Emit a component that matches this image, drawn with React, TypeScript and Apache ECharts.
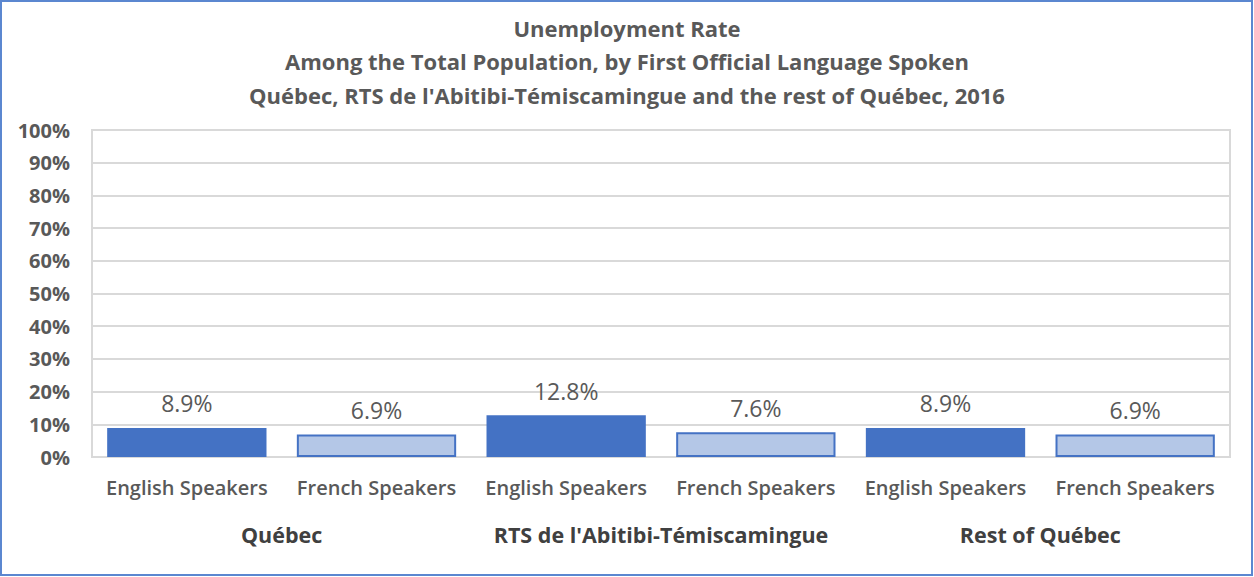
import React, { useEffect, useRef } from "react";
import * as echarts from "echarts";

const titleLines = [
  "Unemployment Rate",
  "Among the Total Population, by First Official Language Spoken",
  "Québec, RTS de l'Abitibi-Témiscamingue and the rest of Québec, 2016",
];
const categories = [
  "English Speakers",
  "French Speakers",
  "English Speakers",
  "French Speakers",
  "English Speakers",
  "French Speakers",
];
const groups = ["Québec", "RTS de l'Abitibi-Témiscamingue", "Rest of Québec"];
const values = [8.9, 6.9, 12.8, 7.6, 8.9, 6.9];

const FONT = "'Open Sans', Lato, sans-serif";

export default function App() {
  const ref = useRef<HTMLDivElement>(null);
  useEffect(() => {
    if (!ref.current) return;
    const chart = echarts.init(ref.current, null, { renderer: "svg" });
    chart.setOption({
      animation: false,
      backgroundColor: "#ffffff",
      textStyle: { fontFamily: FONT },
      title: {
        text: titleLines.join("\n"),
        left: "center",
        top: 6,
        textStyle: {
          fontFamily: FONT,
          fontSize: 22,
          fontWeight: "bold",
          color: "#595959",
          lineHeight: 33.5,
        },
      },
      graphic: [
        {
          type: "rect",
          shape: { x: 1, y: 1, width: 1251, height: 574 },
          style: { fill: "none", stroke: "#5B87D0", lineWidth: 2 },
          silent: true,
        },
      ],
      grid: {
        left: 92,
        right: 24,
        top: 130,
        bottom: 120,
        show: true,
        borderColor: "#D9D9D9",
        borderWidth: 2,
        backgroundColor: "transparent",
      },
      xAxis: [
        {
          type: "category",
          data: categories,
          axisLine: { lineStyle: { color: "#D9D9D9", width: 2 } },
          axisTick: { show: false },
          axisLabel: {
            margin: 20,
            fontFamily: FONT,
            fontSize: 20,
            fontWeight: 600,
            color: "#595959",
            interval: 0,
          },
        },
        {
          type: "category",
          data: groups,
          position: "bottom",
          axisLine: { show: false },
          axisTick: { show: false },
          axisLabel: {
            margin: 66,
            fontFamily: FONT,
            fontSize: 21.5,
            fontWeight: "bold",
            color: "#404040",
            interval: 0,
          },
        },
      ],
      yAxis: {
        type: "value",
        min: 0,
        max: 100,
        interval: 10,
        axisLine: { show: false },
        axisTick: { show: false },
        splitLine: { lineStyle: { color: "#D9D9D9", width: 2 } },
        axisLabel: {
          formatter: "{value}%",
          margin: 22,
          fontFamily: FONT,
          fontSize: 20,
          fontWeight: "bold",
          color: "#595959",
        },
      },
      series: [
        {
          type: "bar",
          xAxisIndex: 0,
          barCategoryGap: "16%",
          data: values.map((v, i) => ({
            value: v,
            itemStyle:
              i % 2 === 0
                ? { color: "#4472C4" }
                : { color: "#B4C7E7", borderColor: "#4472C4", borderWidth: 2 },
          })),
          label: {
            show: true,
            position: "top",
            distance: 13,
            formatter: (p: any) => `${Number(p.value).toFixed(1)}%`,
            fontFamily: FONT,
            fontSize: 23,
            color: "#595959",
          },
        },
      ],
    });
    return () => chart.dispose();
  }, []);
  return (
    <div
      ref={ref}
      style={{ position: "fixed", left: 0, top: 0, width: 1254, height: 577 }}
    />
  );
}
